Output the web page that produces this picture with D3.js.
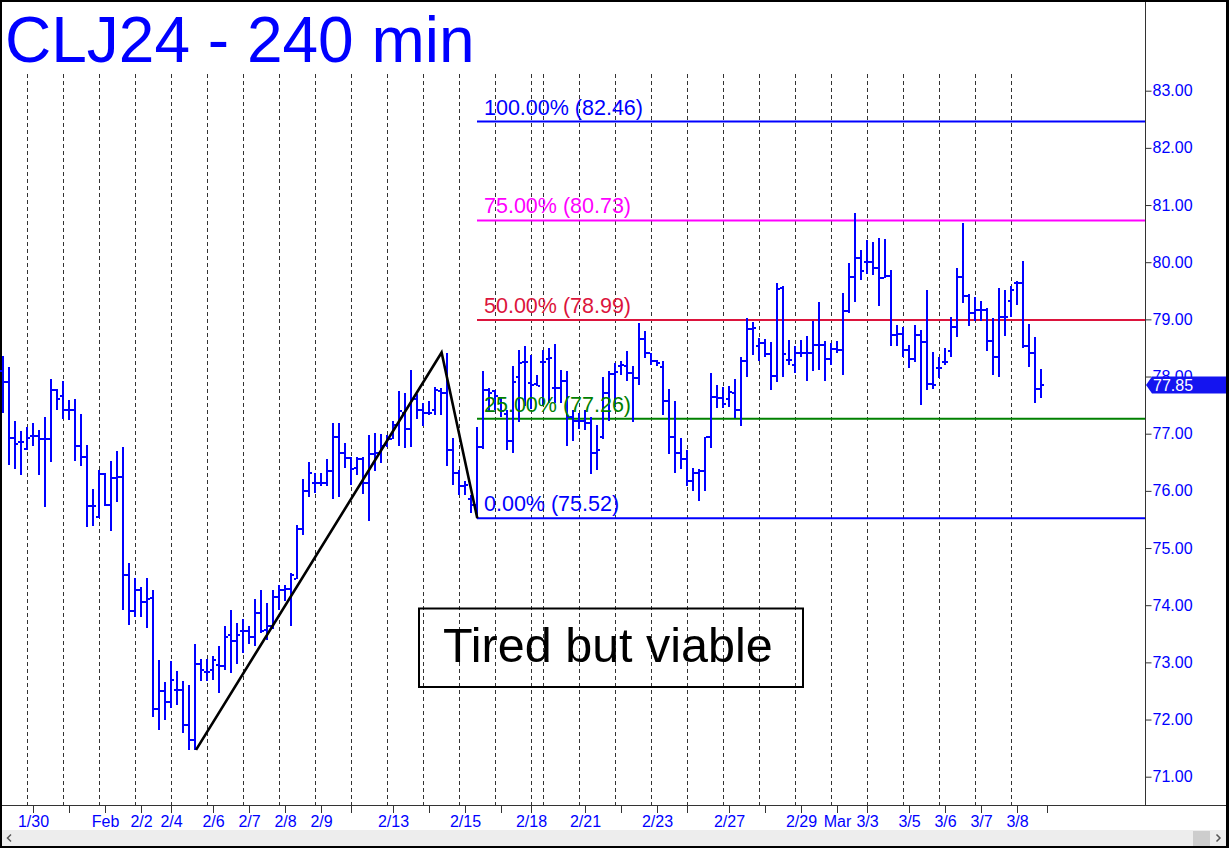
<!DOCTYPE html>
<html><head><meta charset="utf-8">
<script src="https://cdn.jsdelivr.net/npm/d3@7"></script>
<style>
html,body{margin:0;padding:0;background:#fff;}
svg{display:block;font-family:"Liberation Sans",Arial,Helvetica,sans-serif;}
</style></head>
<body>
<svg id="c" width="1229" height="848"></svg>
<script>
// ---- DATA ----
const opens = [
78.10,77.91,76.92,76.85,76.74,76.96,76.96,76.90,76.91,77.77,
77.66,77.42,77.42,76.79,76.59,75.74,75.55,76.30,75.76,76.22,
76.24,74.53,73.89,74.26,74.06,74.12,72.19,72.50,72.30,72.52,
72.52,71.91,71.65,72.98,72.84,72.87,72.96,72.94,73.47,73.37,
73.54,73.54,73.44,73.86,73.57,73.64,74.15,74.26,74.28,74.45,
75.33,75.99,76.14,76.13,76.14,76.34,76.94,76.66,76.57,76.40,
76.56,76.13,76.65,76.66,76.81,76.90,77.15,77.36,77.08,77.60,
77.42,77.36,77.42,77.74,77.72,76.72,76.31,76.08,75.85,75.76,
76.77,77.77,77.74,77.60,77.35,76.88,78.00,78.25,77.89,77.87,
78.25,78.31,77.80,77.80,77.93,77.29,77.22,77.22,77.19,76.66,
76.95,77.72,78.05,78.18,78.19,78.07,77.97,78.66,78.41,78.27,
78.17,77.57,76.94,76.66,76.56,76.17,76.32,76.34,76.94,77.65,
77.62,77.60,77.71,77.42,78.28,78.84,78.53,78.59,78.40,78.01,
79.55,78.29,78.21,78.42,78.42,78.42,78.56,78.56,78.31,78.48,
78.46,79.14,79.74,80.07,80.01,80.01,79.90,79.72,79.76,78.73,
78.75,78.47,78.31,78.73,78.61,77.87,78.15,78.25,78.44,78.87,
79.74,79.41,79.12,79.17,79.17,78.63,78.34,79.05,79.33,79.64,
79.64,78.54,78.41,77.78];
const highs = [
78.36,78.17,77.22,77.04,77.11,77.19,77.06,77.29,77.96,77.78,
77.93,77.59,77.61,77.35,76.81,76.04,76.36,76.31,76.53,76.70,
76.77,74.73,74.48,74.31,74.48,74.26,73.05,72.65,73.02,72.85,
72.67,72.61,73.33,73.06,73.06,73.12,73.28,73.64,73.91,73.68,
73.76,73.63,74.11,74.27,74.04,74.26,74.35,74.36,74.56,75.41,
76.21,76.50,76.32,76.32,76.56,77.19,77.19,76.83,76.59,76.59,
76.60,76.97,77.01,77.00,76.98,77.23,77.74,77.71,78.12,77.70,
77.53,77.57,77.82,77.80,78.42,76.92,76.37,76.17,75.92,77.12,
78.09,77.80,77.77,77.62,77.42,78.19,78.47,78.53,78.38,78.03,
78.47,78.50,78.57,78.12,78.10,77.42,77.36,77.42,77.30,77.16,
78.00,78.09,78.24,78.27,78.44,78.18,78.94,78.79,78.42,78.29,
78.28,77.78,77.58,76.92,76.71,76.40,76.38,76.95,78.06,77.86,
77.82,77.83,77.96,78.35,79.02,78.95,78.67,78.65,78.60,79.64,
79.59,78.64,78.53,78.64,78.71,78.98,79.31,78.62,78.59,78.62,
79.46,79.98,80.86,80.22,80.39,80.35,80.42,80.40,79.87,78.91,
78.87,78.55,78.91,78.82,79.52,78.43,78.35,78.50,79.04,79.89,
80.69,79.45,79.39,79.32,79.20,79.02,79.55,79.52,79.58,79.67,
80.02,78.92,78.69,78.13];
const lows = [
77.37,76.46,76.39,76.27,76.72,76.78,76.27,75.71,76.50,77.41,
77.26,77.24,76.52,76.43,75.37,75.38,75.52,75.74,75.29,75.80,
73.91,73.65,73.80,73.80,73.60,72.05,71.81,71.99,72.20,72.25,
71.76,71.47,71.47,72.67,72.67,72.70,72.46,72.87,72.81,72.98,
73.16,73.33,73.29,73.51,73.40,73.58,73.91,74.07,73.64,74.45,
75.23,75.90,75.96,76.08,76.08,75.86,75.90,76.40,76.11,76.28,
75.95,75.47,76.34,76.49,76.77,76.90,76.78,76.75,76.77,77.25,
77.13,77.33,77.33,77.32,76.43,76.10,75.93,75.92,75.62,75.52,
76.73,77.39,77.42,77.30,76.72,76.66,77.20,77.48,77.43,77.83,
77.51,77.54,77.53,77.53,76.78,76.87,77.08,77.07,76.29,76.37,
76.91,77.22,77.48,78.03,77.92,77.20,77.86,78.32,78.21,78.18,
77.33,76.65,76.32,76.38,76.08,75.99,75.82,75.99,76.75,77.45,
77.45,77.47,77.27,77.14,77.99,78.37,78.28,78.35,77.76,77.90,
78.00,78.20,78.06,78.35,77.92,78.09,78.12,77.92,78.20,78.41,
78.02,79.11,79.30,79.68,79.80,79.78,79.23,79.72,78.53,78.54,
78.35,78.15,78.26,77.50,77.76,77.78,77.97,78.21,78.35,78.70,
79.29,78.88,78.97,78.97,78.44,78.03,77.99,78.71,79.05,79.26,
78.50,78.16,77.54,77.62];
const closes = [
77.91,76.92,76.82,76.85,76.92,76.96,76.90,76.90,77.77,77.60,
77.42,77.42,76.79,76.59,75.74,75.74,76.30,75.75,76.22,76.24,
74.53,73.89,74.26,74.06,74.11,72.19,72.50,72.30,72.70,72.52,
71.91,71.65,72.98,72.87,72.84,73.05,72.93,73.44,73.37,73.48,
73.54,73.44,73.86,73.55,73.64,74.15,74.26,74.28,74.52,75.33,
75.99,76.32,76.13,76.14,76.34,76.94,76.66,76.57,76.38,76.55,
76.13,76.65,76.66,76.78,76.90,77.15,77.39,77.08,77.60,77.42,
77.36,77.37,77.76,77.72,76.72,76.31,76.08,76.11,75.76,76.77,
77.77,77.72,77.66,77.40,76.88,77.90,78.24,78.25,77.86,77.84,
78.25,78.32,77.80,77.93,77.30,77.22,77.22,77.19,76.66,76.72,
77.72,78.05,78.08,78.20,78.07,77.97,78.66,78.41,78.27,78.24,
77.57,76.94,76.66,76.56,76.17,76.32,76.34,76.94,77.65,77.62,
77.52,77.73,77.42,78.28,78.84,78.85,78.59,78.40,78.01,79.53,
78.40,78.29,78.41,78.42,78.42,78.56,78.56,78.31,78.48,78.46,
79.14,79.74,80.07,79.84,80.01,79.90,79.72,79.76,78.73,78.75,
78.47,78.31,78.73,78.61,77.87,77.86,78.15,78.25,78.87,79.74,
79.41,79.12,79.17,79.17,78.63,78.34,79.05,79.05,79.51,79.64,
78.54,78.41,77.78,77.86];

const sessionBreaks = [4,10,16,22,28,34,40,46,52,58,64,70,76,82,88,90,96,102,108,114,120,126,132,138,144,150,156,162,168];
const xTickBars = [5,11,17,23,28,35,41,47,53,58,65,71,77,83,88,97,103,109,114,121,127,133,139,144,151,157,163,169,174];
const xLabels = ["1/30","Feb","2/2","2/4","2/6","2/7","2/8","2/9","2/13","2/15","2/18","2/21","2/23","2/27","2/29","Mar","3/3","3/5","3/6","3/7","3/8"];
const xLabelBars = [5,17,23,28,35,41,47,53,65,77,88,97,109,121,133,139,144,151,157,163,169];
const yTicks = [71,72,73,74,75,76,77,78,79,80,81,82,83];

const fibPct = ["100.00%","75.00%","50.00%","25.00%","0.00%"];
const fibVals = [82.46,80.73,78.99,77.26,75.52];
const fibColors = ["#0000ff","#ff00ff","#dc143c","#008000","#0000ff"];
const fibStartBar = 79;

const swingBars = [32.17,73.1,79.05];
const swingPrices = [71.47,78.42,75.52];

const lastPrice = 77.85;
const title = "CLJ24 - 240 min";
const note = "Tired but viable";

// ---- SCALES ----
const W = 1229, H = 848;
const axisX = 1145, axisY = 805;
const x = d3.scaleLinear().domain([0,173]).range([3,1041]);
const y = d3.scaleLinear().domain([71,83]).range([776.7,90.7]);

const svg = d3.select("#c");
const BLUE = "#0000ff";

// frame
svg.append("rect").attr("width",W).attr("height",H).attr("fill","#000");
svg.append("rect").attr("x",2).attr("y",2).attr("width",W-5).attr("height",H-4).attr("fill","#fff");

// session dashed lines
svg.append("g").selectAll("line").data(sessionBreaks).join("line")
  .attr("x1",d=>Math.round(x(d))+0.5).attr("x2",d=>Math.round(x(d))+0.5)
  .attr("y1",74).attr("y2",axisY)
  .attr("stroke","#333").attr("stroke-width",1).attr("stroke-dasharray","4,3");

// fib lines
const fx0 = x(fibStartBar);
svg.append("g").selectAll("line").data(fibVals).join("line")
  .attr("x1",fx0).attr("x2",axisX)
  .attr("y1",d=>y(d)).attr("y2",d=>y(d))
  .attr("stroke",(d,i)=>fibColors[i]).attr("stroke-width",2);

// bars
const bars = svg.append("g").attr("fill",BLUE).attr("shape-rendering","crispEdges");
const idx = d3.range(opens.length);
bars.selectAll("rect.hl").data(idx).join("rect").attr("class","hl")
  .attr("x",i=>Math.round(x(i))-1).attr("width",2)
  .attr("y",i=>y(highs[i])).attr("height",i=>Math.max(1,y(lows[i])-y(highs[i])));
bars.selectAll("rect.o").data(idx).join("rect").attr("class","o")
  .attr("x",i=>Math.round(x(i))-3).attr("width",2)
  .attr("y",i=>Math.round(y(opens[i]))-1).attr("height",2);
bars.selectAll("rect.c").data(idx).join("rect").attr("class","c")
  .attr("x",i=>Math.round(x(i))+1).attr("width",2)
  .attr("y",i=>Math.round(y(closes[i]))-1).attr("height",2);

// fib labels
svg.append("g").selectAll("text").data(fibVals).join("text")
  .attr("x",484).attr("y",d=>y(d)-7)
  .attr("fill",(d,i)=>fibColors[i]).attr("font-size","21.5px")
  .text((d,i)=>`${fibPct[i]} (${d.toFixed(2)})`);

// swing line
const line = d3.line().x(d=>x(d[0])).y(d=>y(d[1]));
svg.append("path").datum(swingBars.map((b,i)=>[b,swingPrices[i]]))
  .attr("d",line).attr("fill","none").attr("stroke","#000").attr("stroke-width",2.6)
  .attr("stroke-linejoin","miter");

// note box
svg.append("rect").attr("x",419).attr("y",608.5).attr("width",384).attr("height",78.5)
  .attr("fill","none").attr("stroke","#000").attr("stroke-width",2);
svg.append("text").attr("x",443).attr("y",662).attr("font-size","48.5px").attr("fill","#000").text(note);

// axes lines
svg.append("line").attr("x1",axisX+0.5).attr("x2",axisX+0.5).attr("y1",2).attr("y2",axisY)
  .attr("stroke","#333").attr("stroke-width",1);
svg.append("line").attr("x1",2).attr("x2",W-3).attr("y1",axisY+0.5).attr("y2",axisY+0.5)
  .attr("stroke","#333").attr("stroke-width",1);

// y axis
const yAxis = d3.axisRight(y).tickValues(yTicks).tickSize(6).tickPadding(1).tickFormat(d3.format(".2f"));
const gy = svg.append("g").attr("transform",`translate(${axisX+0.5},0)`).call(yAxis);
gy.select(".domain").remove();
gy.selectAll(".tick line").attr("stroke","#333");
gy.selectAll(".tick text").attr("fill",BLUE).attr("font-size","16px")
  .attr("font-family","'Liberation Sans',Arial,sans-serif");

// x axis ticks
svg.append("g").selectAll("line").data(xTickBars).join("line")
  .attr("x1",d=>Math.round(x(d))+0.5).attr("x2",d=>Math.round(x(d))+0.5)
  .attr("y1",axisY).attr("y2",axisY+8).attr("stroke","#333");
svg.append("g").selectAll("text").data(xLabels).join("text")
  .attr("x",(d,i)=>x(xLabelBars[i])+0.5).attr("y",826.5)
  .attr("text-anchor","middle").attr("fill",BLUE).attr("font-size","16px").text(d=>d);

// last price marker
const ly = y(lastPrice);
svg.append("path").attr("d",`M${axisX+1},${ly} L${axisX+7},${ly-8.5} L${W-3},${ly-8.5} L${W-3},${ly+8.5} L${axisX+7},${ly+8.5} Z`)
  .attr("fill","#1414f0");
svg.append("text").attr("x",axisX+8).attr("y",ly).attr("dy","0.36em")
  .attr("fill","#fff").attr("font-size","16px").text(lastPrice.toFixed(2));

// title
svg.append("text").attr("x",5).attr("y",62).attr("font-size","64px").attr("fill",BLUE).text(title);

// scrollbar
svg.append("rect").attr("x",2).attr("y",830).attr("width",W-5).attr("height",16).attr("fill","#ededed");
svg.append("rect").attr("x",1193).attr("y",831).attr("width",17).attr("height",15).attr("fill","#cdcdcd");
svg.append("path").attr("d","M11,834.5 L7.5,838 L11,841.5").attr("fill","none").attr("stroke","#555").attr("stroke-width",1.5);
svg.append("path").attr("d","M1216.5,834.5 L1220,838 L1216.5,841.5").attr("fill","none").attr("stroke","#555").attr("stroke-width",1.5);
</script>
</body></html>
